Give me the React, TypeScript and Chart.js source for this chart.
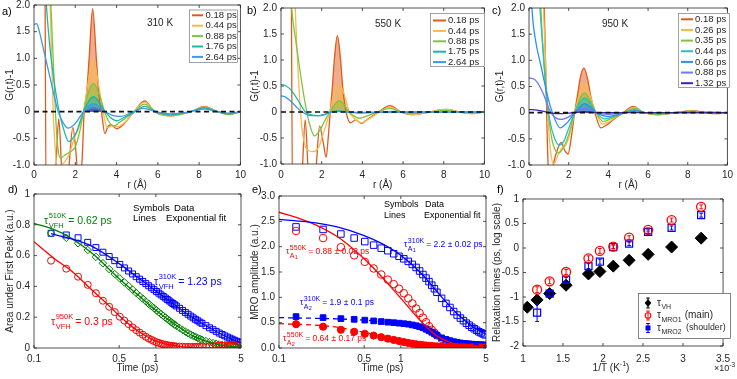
import React, { useEffect, useRef } from "react";
import { Chart, registerables } from "chart.js";

Chart.register(...registerables);

const FONT = "'Liberation Sans', Arial, Helvetica, sans-serif";
const INK = "#262626";
Chart.defaults.font.family = FONT;
Chart.defaults.color = INK;

/* ================= DATA ================= */
/* panels a-c : G(r,t)-1 versus r */
const R_TICKS = [0, 2, 4, 6, 8, 10];
const R_TICK_LABELS = ["0", "2", "4", "6", "8", "10"];
const G_TICKS = [-1, -0.5, 0, 0.5, 1, 1.5, 2];
const G_TICK_LABELS = ["-1.0", "-0.5", "0", "0.5", "1.0", "1.5", "2.0"];
const ZERO_LINE = [[0, 0], [10, 0]];

const A_LABELS = ["0.18 ps", "0.44 ps", "0.88 ps", "1.76 ps", "2.64 ps"];
const A_018 = [[0, 6], [0.48, 6], [0.6, -2.2], [0.9, -2.2], [1.08, -0.9], [1.2, -0.13], [1.33, -1.0], [1.5, -2.0], [1.7, -1.0], [1.88, -0.3], [2.02, -0.7], [2.18, -1.5], [2.33, -0.9], [2.43, 0], [2.54, 0.3], [2.67, 1.0], [2.84, 1.93], [3.02, 1.0], [3.15, 0.3], [3.27, 0], [3.43, -0.41], [3.6, -0.27], [3.75, -0.25], [4.0, -0.32], [4.3, -0.25], [4.85, 0], [5.35, 0.2], [5.85, 0], [6.6, -0.08], [7.6, 0], [8.25, 0.1], [8.9, 0], [9.4, -0.05], [10, 0]];
const A_044 = [[0, 8], [0.6, 5], [0.78, 2.0], [0.93, 0.0], [1.05, -0.8], [1.15, -1.05], [1.3, -1.0], [1.45, -0.96], [1.7, -0.8], [1.95, -0.5], [2.15, -0.32], [2.4, 0], [2.6, 0.5], [2.87, 0.98], [3.13, 0.5], [3.35, 0], [3.55, -0.3], [3.8, -0.26], [4.05, -0.28], [4.4, -0.2], [4.85, 0], [5.35, 0.18], [5.9, 0], [6.6, -0.08], [7.6, 0], [8.25, 0.09], [8.9, 0], [9.4, -0.05], [10, 0]];
const A_088 = [[0, 8], [0.6, 4.5], [0.82, 2.0], [0.95, 0.8], [1.05, -0.1], [1.15, -0.65], [1.27, -0.87], [1.55, -0.8], [1.8, -0.74], [2.0, -0.66], [2.2, -0.4], [2.4, 0], [2.62, 0.35], [2.88, 0.53], [3.15, 0.33], [3.42, 0], [3.6, -0.17], [3.85, -0.27], [4.15, -0.2], [4.85, 0], [5.35, 0.14], [5.9, 0], [6.6, -0.07], [7.6, 0], [8.25, 0.08], [8.9, 0], [9.4, -0.05], [10, 0]];
const A_176 = [[0, 6], [0.4, 3.5], [0.6, 2.0], [0.8, 1.1], [1.0, 0.5], [1.22, 0], [1.45, -0.35], [1.68, -0.56], [1.88, -0.5], [2.07, -0.37], [2.4, 0], [2.88, 0.28], [3.45, 0], [3.7, -0.11], [4.0, -0.17], [4.4, -0.1], [4.9, 0], [5.35, 0.1], [5.9, 0], [6.6, -0.06], [7.6, 0], [8.25, 0.07], [8.9, 0], [9.4, -0.04], [10, 0]];
const A_264 = [[0, 1.63], [0.12, 1.65], [0.25, 1.52], [0.4, 1.27], [0.8, 0.6], [1.17, 0], [1.4, -0.2], [1.66, -0.31], [1.9, -0.26], [2.1, -0.17], [2.4, 0], [2.88, 0.15], [3.45, 0], [3.8, -0.07], [4.2, -0.09], [4.8, 0], [5.3, 0.06], [5.9, 0], [6.6, -0.04], [7.6, 0], [8.25, 0.05], [8.9, 0], [9.4, -0.03], [10, 0]];
const A_LATE_1 = [[2.4, 0], [2.88, 0.09], [3.45, 0]];
const A_LATE_2 = [[2.45, 0], [2.88, 0.05], [3.4, 0]];

const B_LABELS = ["0.18 ps", "0.44 ps", "0.88 ps", "1.75 ps", "2.64 ps"];
const B_018 = [[0, 6], [0.45, 6], [0.58, -2.2], [0.88, -2.2], [1.05, -1.1], [1.19, -0.15], [1.33, -1.1], [1.5, -2.0], [1.72, -1.1], [1.9, -0.27], [2.06, -0.55], [2.22, -0.87], [2.33, -0.45], [2.42, 0], [2.52, 0.45], [2.62, 1.0], [2.77, 1.47], [2.93, 1.0], [3.04, 0.45], [3.2, 0], [3.42, -0.21], [3.67, -0.15], [3.95, -0.22], [4.25, -0.14], [4.8, 0], [5.35, 0.12], [5.9, 0], [6.4, -0.05], [7.3, 0], [8.1, 0.05], [8.8, 0], [9.4, -0.03], [10, 0]];
const B_044 = [[0, 8], [0.55, 4], [0.7, 2.0], [0.88, 0.5], [1.0, -0.2], [1.15, -0.6], [1.33, -0.74], [1.6, -0.76], [1.85, -0.68], [2.05, -0.45], [2.25, -0.2], [2.4, 0], [2.6, 0.35], [2.85, 0.52], [3.1, 0.35], [3.35, 0], [3.6, -0.12], [3.95, -0.21], [4.25, -0.15], [4.85, 0], [5.35, 0.1], [5.9, 0], [6.4, -0.05], [7.3, 0], [8.1, 0.05], [8.8, 0], [9.4, -0.03], [10, 0]];
const B_088 = [[0, 5], [0.35, 3], [0.52, 2.0], [0.75, 1.3], [0.95, 0.75], [1.15, 0.25], [1.35, -0.15], [1.65, -0.46], [1.9, -0.36], [2.15, -0.17], [2.4, 0], [2.87, 0.22], [3.35, 0], [3.6, -0.08], [3.85, -0.12], [4.2, -0.08], [4.75, 0], [5.35, 0.07], [5.9, 0], [6.4, -0.03], [7.3, 0], [8.1, 0.03], [8.8, 0], [9.4, -0.02], [10, 0]];
const B_175 = [[0, 0.53], [0.2, 0.51], [0.45, 0.44], [0.8, 0.25], [1.2, 0], [1.55, -0.06], [1.9, -0.07], [2.2, -0.04], [2.45, 0], [2.85, 0.02], [3.3, 0], [3.8, -0.02], [4.5, -0.01], [5.4, 0.01], [6.2, 0], [10, 0]];
const B_264 = [[0, 0.31], [0.2, 0.29], [0.5, 0.2], [0.85, 0.06], [1.05, 0], [1.45, -0.07], [1.85, -0.07], [2.2, -0.04], [2.45, 0], [2.85, 0.01], [3.3, 0], [3.8, -0.01], [10, 0]];

const C_LABELS = ["0.18 ps", "0.26 ps", "0.35 ps", "0.44 ps", "0.66 ps", "0.88 ps", "1.32 ps"];
const C_018 = [[0, 8], [0.7, 3], [0.82, 1.2], [0.92, -0.5], [1.0, -1.25], [1.1, -1.3], [1.25, -0.95], [1.44, -0.7], [1.62, -0.57], [1.8, -0.72], [1.97, -0.79], [2.12, -0.5], [2.3, 0], [2.45, 0.35], [2.6, 0.7], [2.77, 0.85], [2.95, 0.65], [3.12, 0.3], [3.32, 0], [3.62, -0.29], [3.85, -0.25], [4.3, -0.12], [4.75, 0], [5.25, 0.12], [5.8, 0], [6.5, -0.04], [7.4, 0], [8.2, 0.04], [8.9, 0], [9.4, -0.02], [10, 0]];
const C_026 = [[0, 8], [0.6, 3.5], [0.73, 2.0], [0.9, 0.3], [1.05, -0.6], [1.25, -0.98], [1.45, -0.82], [1.65, -0.68], [1.85, -0.62], [2.05, -0.42], [2.3, 0], [2.5, 0.3], [2.8, 0.58], [3.1, 0.3], [3.37, 0], [3.7, -0.22], [4.0, -0.18], [4.4, -0.08], [4.8, 0], [5.3, 0.1], [5.8, 0], [6.5, -0.035], [7.4, 0], [8.2, 0.035], [8.9, 0], [10, 0]];
const C_035 = [[0, 8], [0.5, 3.2], [0.6, 2.0], [0.75, 1.0], [0.95, 0.05], [1.15, -0.5], [1.3, -0.7], [1.48, -0.77], [1.68, -0.7], [1.88, -0.55], [2.08, -0.32], [2.3, 0], [2.8, 0.38], [3.38, 0], [3.75, -0.17], [4.1, -0.12], [4.8, 0], [5.3, 0.08], [5.8, 0], [6.5, -0.03], [7.4, 0], [8.2, 0.03], [8.9, 0], [10, 0]];
const C_044 = [[0, 6], [0.45, 2.6], [0.55, 2.0], [0.7, 1.2], [0.88, 0.35], [1.05, -0.15], [1.3, -0.5], [1.52, -0.62], [1.75, -0.55], [2.0, -0.3], [2.3, 0], [2.8, 0.28], [3.4, 0], [3.8, -0.12], [4.2, -0.08], [4.85, 0], [5.3, 0.06], [5.8, 0], [6.5, -0.02], [7.4, 0], [8.2, 0.02], [10, 0]];
const C_066 = [[0, 3.5], [0.15, 2.0], [0.3, 1.45], [0.6, 0.9], [0.94, 0.31], [1.18, 0], [1.57, -0.29], [1.9, -0.2], [2.32, 0], [2.8, 0.17], [3.4, 0], [3.9, -0.07], [4.85, 0], [5.3, 0.04], [5.8, 0], [10, 0]];
const C_088 = [[0, 0.66], [0.2, 0.65], [0.4, 0.59], [0.7, 0.38], [1.1, 0], [1.6, -0.13], [2.0, -0.08], [2.3, 0], [2.8, 0.08], [3.4, 0], [3.9, -0.03], [4.8, 0], [5.3, 0.02], [5.8, 0], [10, 0]];
const C_132 = [[0, 0.06], [0.4, 0.05], [0.8, 0.02], [1.05, 0], [1.5, -0.02], [2.0, -0.01], [2.3, 0], [2.8, 0.02], [3.4, 0], [10, 0]];

/* panel d : area under first peak */
const T_TICKS = [0.1, 0.5, 1, 5];
const T_TICK_LABELS = ["0.1", "0.5", "1", "5"];
const D_Y_TICKS = [0, 0.2, 0.4, 0.6, 0.8, 1];
const D_Y_TICK_LABELS = ["0", "0.2", "0.4", "0.6", "0.8", "1"];
const T_D = [0.138, 0.184, 0.23, 0.276, 0.322, 0.368, 0.414, 0.46, 0.506, 0.552, 0.598, 0.644, 0.69, 0.736, 0.782, 0.828, 0.874, 0.92, 0.966, 1.012, 1.058, 1.104, 1.15, 1.196, 1.242, 1.288, 1.334, 1.38, 1.426, 1.472, 1.564, 1.656, 1.748, 1.84, 1.932, 2.024, 2.116, 2.208, 2.3, 2.392, 2.576, 2.76, 2.944, 3.128, 3.312, 3.496, 3.68, 3.864, 4.048, 4.232, 4.416, 4.6, 4.784, 4.968];
const D_310 = [0.745, 0.734, 0.716, 0.686, 0.652, 0.622, 0.594, 0.567, 0.543, 0.52, 0.5, 0.481, 0.463, 0.447, 0.432, 0.418, 0.404, 0.391, 0.379, 0.367, 0.356, 0.345, 0.335, 0.325, 0.315, 0.306, 0.297, 0.289, 0.281, 0.273, 0.258, 0.244, 0.231, 0.219, 0.207, 0.196, 0.186, 0.177, 0.168, 0.16, 0.145, 0.131, 0.119, 0.108, 0.097, 0.088, 0.079, 0.071, 0.064, 0.057, 0.05, 0.044, 0.039, 0.034];
const D_510 = [0.745, 0.716, 0.68, 0.636, 0.592, 0.55, 0.512, 0.48, 0.452, 0.426, 0.402, 0.379, 0.358, 0.338, 0.32, 0.303, 0.287, 0.272, 0.258, 0.245, 0.232, 0.22, 0.209, 0.198, 0.188, 0.178, 0.169, 0.16, 0.152, 0.144, 0.13, 0.117, 0.106, 0.096, 0.087, 0.079, 0.072, 0.065, 0.059, 0.054, 0.045, 0.038, 0.032, 0.027, 0.023, 0.02, 0.018, 0.016, 0.014, 0.013, 0.012, 0.011, 0.011, 0.01];
const D_950 = [0.567, 0.515, 0.463, 0.41, 0.356, 0.307, 0.268, 0.233, 0.203, 0.178, 0.155, 0.134, 0.116, 0.1, 0.086, 0.073, 0.062, 0.053, 0.045, 0.038, 0.033, 0.028, 0.024, 0.021, 0.018, 0.016, 0.014, 0.012, 0.011, 0.01, 0.009, 0.008, 0.007, 0.007, 0.007, 0.007, 0.007, 0.008, 0.008, 0.009, 0.01, 0.011, 0.012, 0.013, 0.014, 0.015, 0.016, 0.017, 0.018, 0.019, 0.02, 0.021, 0.021, 0.022];
const FIT_D_310_T = [0.138, 0.2, 0.3, 0.5, 0.7, 1, 1.5, 2, 3, 4, 5];
const FIT_D_310 = [0.742, 0.71, 0.66, 0.548, 0.462, 0.37, 0.268, 0.198, 0.115, 0.065, 0.033];
const FIT_D_510_T = [0.1, 0.15, 0.2, 0.3, 0.5, 0.7, 1, 1.5, 2, 3, 4, 5];
const FIT_D_510 = [0.81, 0.765, 0.715, 0.615, 0.45, 0.35, 0.245, 0.143, 0.08, 0.028, 0.012, 0.006];
const FIT_D_950_T = [0.1, 0.15, 0.2, 0.3, 0.4, 0.5, 0.7, 1, 1.5, 2, 3, 5];
const FIT_D_950 = [0.69, 0.575, 0.505, 0.375, 0.285, 0.21, 0.115, 0.045, 0.012, 0.004, 0.001, 0];

/* panel e : MRO amplitude */
const E_Y_TICKS = [0, 0.5, 1, 1.5, 2, 2.5, 3];
const E_Y_TICK_LABELS = ["0.0", "0.5", "1.0", "1.5", "2.0", "2.5", "3.0"];
const T_E = [0.138, 0.23, 0.322, 0.414, 0.506, 0.598, 0.69, 0.782, 0.874, 0.966, 1.058, 1.15, 1.242, 1.334, 1.426, 1.518, 1.61, 1.702, 1.794, 1.886, 1.978, 2.162, 2.346, 2.53, 2.714, 2.898, 3.082, 3.266, 3.45, 3.634, 3.818, 4.002, 4.186, 4.37, 4.554, 4.738, 4.922];
const E_A1_310 = [2.39, 2.34, 2.25, 2.17, 2.1, 2.03, 1.97, 1.92, 1.86, 1.81, 1.76, 1.71, 1.65, 1.59, 1.52, 1.45, 1.38, 1.31, 1.24, 1.17, 1.1, 0.98, 0.88, 0.8, 0.72, 0.65, 0.59, 0.54, 0.49, 0.45, 0.41, 0.38, 0.35, 0.32, 0.3, 0.28, 0.26];
const E_A1_550 = [2.31, 2.17, 1.99, 1.83, 1.7, 1.57, 1.45, 1.35, 1.26, 1.17, 1.08, 0.98, 0.88, 0.78, 0.69, 0.6, 0.51, 0.43, 0.36, 0.3, 0.25, 0.18, 0.13, 0.1, 0.08, 0.065, 0.055, 0.048, 0.042, 0.038, 0.034, 0.031, 0.028, 0.026, 0.024, 0.022, 0.02];
const E_A2_310 = [0.62, 0.6, 0.58, 0.565, 0.55, 0.535, 0.522, 0.51, 0.5, 0.49, 0.48, 0.47, 0.455, 0.44, 0.42, 0.4, 0.37, 0.34, 0.31, 0.28, 0.25, 0.2, 0.17, 0.145, 0.125, 0.11, 0.1, 0.092, 0.086, 0.08, 0.076, 0.072, 0.069, 0.066, 0.063, 0.061, 0.059];
const E_A2_550 = [0.47, 0.42, 0.36, 0.32, 0.28, 0.245, 0.213, 0.185, 0.16, 0.138, 0.118, 0.1, 0.086, 0.074, 0.064, 0.056, 0.049, 0.043, 0.038, 0.034, 0.031, 0.026, 0.022, 0.019, 0.017, 0.015, 0.014, 0.013, 0.012, 0.011, 0.011, 0.01, 0.01, 0.01, 0.01, 0.01, 0.01];
const FIT_E_A1_310_T = [0.1, 0.2, 0.3, 0.5, 0.7, 1, 1.5, 2, 3, 4, 5];
const FIT_E_A1_310 = [2.54, 2.47, 2.39, 2.22, 2.06, 1.83, 1.45, 1.1, 0.64, 0.4, 0.27];
const FIT_E_A1_550_T = [0.1, 0.15, 0.2, 0.3, 0.4, 0.5, 0.7, 1, 1.5, 2, 3, 5];
const FIT_E_A1_550 = [2.68, 2.55, 2.43, 2.2, 1.97, 1.76, 1.4, 0.98, 0.5, 0.23, 0.06, 0.01];
const FIT_E_A2_310_T = [0.1, 0.3, 0.5, 0.7, 1, 1.5, 2, 3, 4, 5];
const FIT_E_A2_310 = [0.6, 0.575, 0.55, 0.52, 0.47, 0.37, 0.27, 0.14, 0.075, 0.04];
const FIT_E_A2_550_T = [0.1, 0.2, 0.3, 0.5, 0.7, 1, 1.5, 2, 3, 5];
const FIT_E_A2_550 = [0.48, 0.45, 0.41, 0.31, 0.23, 0.14, 0.06, 0.03, 0.01, 0.003];

/* panel f : relaxation times */
const F_X_TICKS = [1, 1.5, 2, 2.5, 3, 3.5];
const F_X_TICK_LABELS = ["1", "1.5", "2", "2.5", "3", "3.5"];
const F_Y_TICKS = [-2, -1.5, -1, -0.5, 0, 0.5, 1];
const F_Y_TICK_LABELS = ["-2", "-1.5", "-1", "-0.5", "0", "0.5", "1"];
const F_INV_T = [1.053, 1.176, 1.333, 1.538, 1.818, 1.961, 2.128, 2.326, 2.564, 2.857, 3.226];
const F_INV_T_MRO = [1.176, 1.333, 1.538, 1.818, 1.961, 2.128, 2.326, 2.564, 2.857, 3.226];
const F_TAU_VH = [-1.21, -1.06, -0.93, -0.76, -0.53, -0.48, -0.37, -0.25, -0.13, 0.02, 0.2];
const F_TAU_MRO1 = [-0.85, -0.68, -0.49, -0.21, -0.06, 0.03, 0.21, 0.37, 0.57, 0.84];
const F_ERR_MRO1 = [0.06, 0.05, 0.05, 0.05, 0.05, 0.04, 0.04, 0.04, 0.04, 0.04];
const F_TAU_MRO2 = [-1.32, -0.93, -0.65, -0.37, -0.28, 0.02, 0.09, 0.33, 0.41, 0.67];
const F_ERR_MRO2 = [0.18, 0.05, 0.05, 0.05, 0.05, 0.04, 0.04, 0.04, 0.04, 0.04];

/* ================= STYLE ================= */
const TIME5_COLORS = ["#DE5B1C", "#F9B850", "#7DC541", "#19B8A7", "#3A9AEB"];
const A_LATE_COLORS = ["#3F63DA", "#4430BE"];
const C_COLORS = ["#DE5B1C", "#F9B850", "#7DC541", "#2BC0B2", "#2F8FE8", "#6C7CF2", "#3A22B5"];
const BLUE = "#0000FF";
const RED = "#FF0000";
const GREEN = "#008000";

type Area = { left: number; top: number; right: number; bottom: number };
type Box = { left: number; top: number; width: number; height: number; area: Area };

const toXY = (pts: number[][]) => pts.map(([x, y]) => ({ x, y }));
const zip = (xs: number[], ys: number[]) => xs.map((x, i) => ({ x, y: ys[i] }));
function rgba(hex: string, a: number) {
  const n = parseInt(hex.slice(1), 16);
  return `rgba(${(n >> 16) & 255},${(n >> 8) & 255},${n & 255},${a})`;
}

function setFont(ctx: CanvasRenderingContext2D, size: number) {
  ctx.font = `${size}px ${FONT}`;
}
function measure(ctx: CanvasRenderingContext2D, s: string, size: number) {
  setFont(ctx, size);
  return ctx.measureText(s).width;
}
function txt(ctx: CanvasRenderingContext2D, s: string, x: number, y: number, size: number, color: string, align: CanvasTextAlign = "left") {
  setFont(ctx, size);
  ctx.fillStyle = color;
  ctx.textAlign = align;
  ctx.textBaseline = "middle";
  ctx.fillText(s, x, y);
}
function tau(ctx: CanvasRenderingContext2D, x: number, y: number, sup: string | null, sub: string[] | null, rest: string | null, color: string, size: number, small: number, gap = 2) {
  txt(ctx, "τ", x, y, size, color);
  const xs = x + measure(ctx, "τ", size) + 0.5;
  let w = 0;
  if (sup) {
    txt(ctx, sup, xs, y - size * 0.5, small, color);
    w = Math.max(w, measure(ctx, sup, small));
  }
  if (sub) {
    const sy = y + size * 0.45;
    txt(ctx, sub[0], xs, sy, small, color);
    let ws = measure(ctx, sub[0], small);
    if (sub[1]) {
      const s2 = small * 0.78;
      txt(ctx, sub[1], xs + ws + 0.3, sy + small * 0.3, s2, color);
      ws += measure(ctx, sub[1], s2) + 0.3;
    }
    w = Math.max(w, ws);
  }
  if (rest) txt(ctx, rest, xs + w + gap, y, size, color);
}
function seg(ctx: CanvasRenderingContext2D, x1: number, y1: number, x2: number, y2: number, color: string, lw: number) {
  ctx.beginPath();
  ctx.strokeStyle = color;
  ctx.lineWidth = lw;
  ctx.moveTo(x1, y1);
  ctx.lineTo(x2, y2);
  ctx.stroke();
}
function errBar(ctx: CanvasRenderingContext2D, x: number, y1: number, y2: number, color: string) {
  seg(ctx, x, y1, x, y2, color, 1);
  seg(ctx, x - 1.8, y1, x + 1.8, y1, color, 1);
  seg(ctx, x - 1.8, y2, x + 1.8, y2, color, 1);
}

const framePlugin = {
  id: "mframe",
  afterDatasetsDraw(chart: any) {
    const { ctx, chartArea: a, scales } = chart;
    ctx.save();
    ctx.strokeStyle = INK;
    ctx.lineWidth = 0.8;
    ctx.beginPath();
    ctx.rect(a.left, a.top, a.right - a.left, a.bottom - a.top);
    const tl = 3;
    for (const t of scales.x.ticks) {
      const p = scales.x.getPixelForValue(t.value);
      ctx.moveTo(p, a.bottom); ctx.lineTo(p, a.bottom - tl);
      ctx.moveTo(p, a.top); ctx.lineTo(p, a.top + tl);
    }
    for (const t of scales.y.ticks) {
      const p = scales.y.getPixelForValue(t.value);
      ctx.moveTo(a.left, p); ctx.lineTo(a.left + tl, p);
      ctx.moveTo(a.right, p); ctx.lineTo(a.right - tl, p);
    }
    ctx.stroke();
    ctx.restore();
  },
};

function overlay(box: Box, draw: (ctx: CanvasRenderingContext2D, chart: any) => void) {
  return {
    id: "overlay",
    afterDatasetsDraw(chart: any) {
      const ctx = chart.ctx;
      ctx.save();
      ctx.translate(-box.left, -box.top);
      draw(ctx, chart);
      ctx.restore();
    },
  };
}

function axisX(box: Box, o: any) {
  return {
    type: o.type || "linear",
    min: o.min,
    max: o.max,
    position: "bottom",
    afterBuildTicks: (s: any) => { s.ticks = o.ticks.map((v: number) => ({ value: v })); },
    ticks: { callback: (_v: any, i: number) => o.labels[i], font: { size: 10, family: FONT }, color: INK, padding: o.pad, maxRotation: 0, minRotation: 0, autoSkip: false },
    grid: { display: false, drawTicks: false },
    border: { display: false },
    title: o.title ? { display: true, text: o.title, font: { size: 10, family: FONT }, color: INK, padding: { top: 0, bottom: o.titlePad } } : { display: false },
    afterFit: (s: any) => { s.height = box.top + box.height - box.area.bottom; },
  };
}
function axisY(box: Box, o: any) {
  return {
    type: "linear",
    min: o.min,
    max: o.max,
    position: "left",
    afterBuildTicks: (s: any) => { s.ticks = o.ticks.map((v: number) => ({ value: v })); },
    ticks: { callback: (_v: any, i: number) => o.labels[i], font: { size: 10, family: FONT }, color: INK, padding: 4, autoSkip: false },
    grid: { display: false, drawTicks: false },
    border: { display: false },
    title: { display: true, text: o.title, font: { size: 10, family: FONT }, color: INK, padding: { top: o.titlePad, bottom: 0 } },
    afterFit: (s: any) => { s.width = box.area.left - box.left; },
  };
}
function baseOptions(box: Box, scales: any) {
  return {
    responsive: false,
    maintainAspectRatio: false,
    animation: false,
    events: [],
    layout: { padding: { left: 0, top: box.area.top - box.top, right: box.left + box.width - box.area.right, bottom: 0 } },
    plugins: { legend: { display: false }, tooltip: { enabled: false } },
    scales,
  };
}

type Legend = { x0: number; y0: number; x1: number; y1: number; row0: number; dy: number; s0: number; s1: number; tx: number };
function drawLineLegend(ctx: CanvasRenderingContext2D, lg: Legend, labels: string[], colors: string[]) {
  ctx.fillStyle = "#ffffff";
  ctx.fillRect(lg.x0, lg.y0, lg.x1 - lg.x0, lg.y1 - lg.y0);
  ctx.strokeStyle = "#7a7a7a";
  ctx.lineWidth = 0.7;
  ctx.strokeRect(lg.x0 + 0.5, lg.y0 + 0.5, lg.x1 - lg.x0 - 1, lg.y1 - lg.y0 - 1);
  labels.forEach((s, i) => {
    const y = lg.row0 + i * lg.dy;
    seg(ctx, lg.s0, y, lg.s1, y, colors[i], 2);
    txt(ctx, s, lg.tx, y, 9.5, INK);
  });
}

function topConfig(box: Box, curves: number[][][], colors: string[], extras: number[][][], extraColors: string[], labels: string[], lg: Legend, temp: [string, number, number], tag: [string, number, number], tickPad: number) {
  const datasets: any[] = [];
  datasets.push({ data: toXY(ZERO_LINE), borderColor: "#111111", borderWidth: 1.6, borderDash: [5, 3.5], pointRadius: 0, fill: false, order: 0 });
  curves.forEach((c, i) =>
    datasets.push({ data: toXY(c), borderColor: colors[i], borderWidth: 1.3, pointRadius: 0, cubicInterpolationMode: "monotone", fill: false, order: curves.length - i })
  );
  const peaks = curves.concat(extras);
  const pc = colors.concat(extraColors);
  peaks.forEach((c, i) =>
    datasets.push({
      data: toXY(c.filter(([x, y]) => x >= 2.2 && x <= 3.7 && y >= 0)),
      borderColor: "rgba(0,0,0,0)",
      borderWidth: 1,
      backgroundColor: rgba(pc[i], 0.5),
      pointRadius: 0,
      cubicInterpolationMode: "monotone",
      fill: "origin",
      order: 100 - i,
    })
  );
  const scales = {
    x: axisX(box, { min: 0, max: 10, ticks: R_TICKS, labels: R_TICK_LABELS, pad: tickPad, title: "r (Å)", titlePad: 1 }),
    y: axisY(box, { min: -1, max: 2, ticks: G_TICKS, labels: G_TICK_LABELS, title: "G(r,t)-1", titlePad: 4 }),
  };
  return {
    type: "line",
    data: { datasets },
    options: baseOptions(box, scales),
    plugins: [
      framePlugin,
      overlay(box, (ctx) => {
        drawLineLegend(ctx, lg, labels, colors);
        txt(ctx, temp[0], temp[1], temp[2], 10, INK);
        txt(ctx, tag[0], tag[1], tag[2], 11, "#000");
      }),
    ],
  };
}

const marker = (xs: number[], ys: number[], style: string, radius: number, color: string, filled: boolean, order: number, bw = 1) => ({
  data: zip(xs, ys),
  showLine: false,
  pointStyle: style,
  pointRadius: radius,
  pointBorderColor: color,
  pointBackgroundColor: filled ? color : "rgba(0,0,0,0)",
  pointBorderWidth: bw,
  borderColor: color,
  backgroundColor: filled ? color : "rgba(0,0,0,0)",
  fill: false,
  order,
});
const fitLine = (xs: number[], ys: number[], color: string, dash: number[], order: number) => ({
  data: zip(xs, ys),
  borderColor: color,
  borderWidth: 1.3,
  borderDash: dash,
  pointRadius: 0,
  cubicInterpolationMode: "monotone",
  fill: false,
  order,
});

/* ================= PANELS ================= */
const BOX_A: Box = { left: 0, top: -10, width: 250, height: 202, area: { left: 34, top: 5, right: 241, bottom: 165 } };
const BOX_B: Box = { left: 245, top: -10, width: 250, height: 202, area: { left: 281, top: 8, right: 486, bottom: 164 } };
const BOX_C: Box = { left: 490, top: -10, width: 247, height: 202, area: { left: 529, top: 8, right: 731, bottom: 165 } };
const BOX_D: Box = { left: 0, top: 180, width: 250, height: 199, area: { left: 34, top: 194, right: 241, bottom: 348 } };
const BOX_E: Box = { left: 245, top: 180, width: 250, height: 199, area: { left: 279, top: 196, right: 486, bottom: 348 } };
const BOX_F: Box = { left: 490, top: 180, width: 247, height: 199, area: { left: 523, top: 199, right: 729, bottom: 346 } };

const panelA = {
  box: BOX_A,
  config: () =>
    topConfig(BOX_A, [A_018, A_044, A_088, A_176, A_264], TIME5_COLORS, [A_LATE_1, A_LATE_2], A_LATE_COLORS, A_LABELS,
      { x0: 189, y0: 9.5, x1: 238, y1: 63, row0: 15.3, dy: 10.4, s0: 192, s1: 203, tx: 205.5 },
      ["310 K", 147, 23.5], ["a)", 2, 12], 4),
};
const panelB = {
  box: BOX_B,
  config: () =>
    topConfig(BOX_B, [B_018, B_044, B_088, B_175, B_264], TIME5_COLORS, [], [], B_LABELS,
      { x0: 430, y0: 13, x1: 485, y1: 67, row0: 20.5, dy: 10.4, s0: 433, s1: 446, tx: 448 },
      ["550 K", 375, 24], ["b)", 247, 11], 5),
};
const panelC = {
  box: BOX_C,
  config: () =>
    topConfig(BOX_C, [C_018, C_026, C_035, C_044, C_066, C_088, C_132], C_COLORS, [], [], C_LABELS,
      { x0: 678, y0: 13, x1: 730, y1: 88, row0: 19.3, dy: 10.65, s0: 681, s1: 693, tx: 695 },
      ["950 K", 602, 24], ["c)", 492, 11], 4),
};

const panelD = {
  box: BOX_D,
  config: () => ({
    type: "line",
    data: {
      datasets: [
        fitLine(FIT_D_310_T, FIT_D_310, BLUE, [], 0),
        fitLine(FIT_D_510_T, FIT_D_510, GREEN, [], 1),
        fitLine(FIT_D_950_T, FIT_D_950, RED, [], 2),
        marker(T_D, D_950, "circle", 3.5, RED, false, 3),
        marker(T_D, D_510, "rectRot", 3.8, GREEN, false, 4),
        marker(T_D, D_310, "rect", 4.2, BLUE, false, 5),
      ],
    },
    options: baseOptions(BOX_D, {
      x: axisX(BOX_D, { type: "logarithmic", min: 0.1, max: 5, ticks: T_TICKS, labels: T_TICK_LABELS, pad: 5, title: "Time (ps)", titlePad: 5 }),
      y: axisY(BOX_D, { min: 0, max: 1, ticks: D_Y_TICKS, labels: D_Y_TICK_LABELS, title: "Area under First Peak (a.u.)", titlePad: 4 }),
    }),
    plugins: [
      framePlugin,
      overlay(BOX_D, (ctx) => {
        txt(ctx, "d)", 8, 190, 11, "#000");
        txt(ctx, "Symbols", 133, 208, 9.6, "#000");
        txt(ctx, "Data", 174, 208, 9.6, "#000");
        txt(ctx, "Lines", 133, 218.5, 9.6, "#000");
        txt(ctx, "Exponential fit", 166, 218.5, 9.6, "#000");
        tau(ctx, 44, 221, "510K", ["VFH"], "= 0.62 ps", GREEN, 10.5, 7.5);
        tau(ctx, 154, 282, "310K", ["VFH"], "= 1.23 ps", BLUE, 10.5, 7.5);
        tau(ctx, 51, 322, "950K", ["VFH"], "= 0.3 ps", RED, 10.5, 7.5);
      }),
    ],
  }),
};

const panelE = {
  box: BOX_E,
  config: () => ({
    type: "line",
    data: {
      datasets: [
        fitLine(FIT_E_A1_310_T, FIT_E_A1_310, BLUE, [], 0),
        fitLine(FIT_E_A1_550_T, FIT_E_A1_550, RED, [], 1),
        fitLine(FIT_E_A2_310_T, FIT_E_A2_310, BLUE, [5, 4], 2),
        fitLine(FIT_E_A2_550_T, FIT_E_A2_550, RED, [5, 4], 3),
        marker(T_E, E_A2_550, "circle", 3.6, RED, true, 4),
        marker(T_E, E_A2_310, "rect", 4, BLUE, true, 5),
        marker(T_E, E_A1_550, "circle", 3.8, RED, false, 6),
        marker(T_E, E_A1_310, "rect", 4.6, BLUE, false, 7),
      ],
    },
    options: baseOptions(BOX_E, {
      x: axisX(BOX_E, { type: "logarithmic", min: 0.1, max: 5, ticks: T_TICKS, labels: T_TICK_LABELS, pad: 5, title: "Time (ps)", titlePad: 5 }),
      y: axisY(BOX_E, { min: 0, max: 3, ticks: E_Y_TICKS, labels: E_Y_TICK_LABELS, title: "MRO amplitude (a.u.)", titlePad: 4 }),
    }),
    plugins: [
      framePlugin,
      overlay(BOX_E, (ctx) => {
        txt(ctx, "e)", 252, 190, 11, "#000");
        txt(ctx, "Symbols", 384, 205, 9, "#000");
        txt(ctx, "Data", 425, 205, 9, "#000");
        txt(ctx, "Lines", 384, 216, 9, "#000");
        txt(ctx, "Exponential fit", 424, 216, 9, "#000");
        tau(ctx, 404, 245, "310K", ["A", "1"], "= 2.2 ± 0.02 ps", BLUE, 8.5, 7);
        tau(ctx, 286, 252, "550K", ["A", "1"], "= 0.88 ± 0.02 ps", RED, 8.5, 7);
        tau(ctx, 300, 303, "310K", ["A", "2"], "= 1.9 ± 0.1 ps", BLUE, 8.5, 7);
        tau(ctx, 283, 339, "550K", ["A", "2"], "= 0.64 ± 0.17 ps", RED, 8.5, 7);
      }),
    ],
  }),
};

const panelF = {
  box: BOX_F,
  config: () => {
    const mro1 = marker(F_INV_T_MRO, F_TAU_MRO1, "circle", 4.5, RED, false, 1, 1.3);
    const mro2 = marker(F_INV_T_MRO, F_TAU_MRO2, "rect", 5, BLUE, false, 2, 1.2);
    const vh = marker(F_INV_T, F_TAU_VH, "rectRot", 6, "#000000", true, 3);
    return {
      type: "line",
      data: { datasets: [mro1, mro2, vh] },
      options: baseOptions(BOX_F, {
        x: axisX(BOX_F, { min: 1, max: 3.5, ticks: F_X_TICKS, labels: F_X_TICK_LABELS, pad: 7, title: null }),
        y: axisY(BOX_F, { min: -2, max: 1, ticks: F_Y_TICKS, labels: F_Y_TICK_LABELS, title: "Relaxation times (ps, log scale)", titlePad: 1 }),
      }),
      plugins: [
        framePlugin,
        overlay(BOX_F, (ctx, chart) => {
          const ys = chart.scales.y;
          const bars = (di: number, vals: number[], errs: number[], color: string) => {
            const meta = chart.getDatasetMeta(di);
            meta.data.forEach((pt: any, i: number) => {
              const x = pt.x + BOX_F.left;
              errBar(ctx, x, ys.getPixelForValue(vals[i] + errs[i]) + BOX_F.top, ys.getPixelForValue(vals[i] - errs[i]) + BOX_F.top, color);
            });
          };
          bars(1, F_TAU_MRO2, F_ERR_MRO2, BLUE);
          bars(0, F_TAU_MRO1, F_ERR_MRO1, RED);
          txt(ctx, "f)", 497, 190, 11, "#000");
          const t1 = "1/T (K", t2 = "-1", t3 = ")";
          const w1 = measure(ctx, t1, 10), w2 = measure(ctx, t2, 7), w3 = measure(ctx, t3, 10);
          const x0 = 611 - (w1 + w2 + w3) / 2;
          txt(ctx, t1, x0, 368, 10, INK);
          txt(ctx, t2, x0 + w1, 364, 7, INK);
          txt(ctx, t3, x0 + w1 + w2, 368, 10, INK);
          txt(ctx, "×10", 714, 369, 9, INK);
          txt(ctx, "-3", 714 + measure(ctx, "×10", 9), 365, 6.5, INK);
          ctx.fillStyle = "#fff";
          ctx.fillRect(638, 293, 93, 46);
          ctx.strokeStyle = "#4d4d4d";
          ctx.lineWidth = 0.7;
          ctx.strokeRect(638.5, 293.5, 92, 45);
          const mx = 648;
          ctx.beginPath();
          ctx.fillStyle = "#000";
          ctx.moveTo(mx, 303 - 4); ctx.lineTo(mx + 3.3, 303); ctx.lineTo(mx, 303 + 4); ctx.lineTo(mx - 3.3, 303); ctx.closePath(); ctx.fill();
          errBar(ctx, mx, 298, 308, "#000");
          tau(ctx, 657, 303, null, ["VH"], null, INK, 10, 7);
          ctx.beginPath(); ctx.strokeStyle = RED; ctx.lineWidth = 1.1; ctx.arc(mx, 315.5, 2.8, 0, Math.PI * 2); ctx.stroke();
          errBar(ctx, mx, 311, 320, RED);
          tau(ctx, 657, 315.5, null, ["MRO1"], "(main)", INK, 10, 7, 3);
          ctx.fillStyle = BLUE; ctx.fillRect(mx - 2.5, 328 - 2.5, 5, 5);
          errBar(ctx, mx, 323.5, 332.5, BLUE);
          tau(ctx, 657, 328, null, ["MRO2"], null, INK, 10, 7);
          txt(ctx, "(shoulder)", 686, 328, 8.8, INK);
        }),
      ],
    };
  },
};

const PANELS = [panelA, panelB, panelC, panelD, panelE, panelF];

function Panel({ spec }: { spec: any }) {
  const ref = useRef<HTMLCanvasElement | null>(null);
  useEffect(() => {
    const chart = new Chart(ref.current as HTMLCanvasElement, spec.config() as any);
    return () => chart.destroy();
  }, [spec]);
  const b: Box = spec.box;
  return (
    <canvas
      ref={ref}
      width={b.width}
      height={b.height}
      style={{ position: "absolute", left: b.left, top: b.top, width: b.width, height: b.height }}
    />
  );
}

export default function App() {
  return (
    <div style={{ position: "fixed", left: 0, top: 0, width: 737, height: 379, background: "#ffffff", overflow: "hidden" }}>
      {PANELS.map((p, i) => (
        <Panel key={i} spec={p} />
      ))}
    </div>
  );
}
